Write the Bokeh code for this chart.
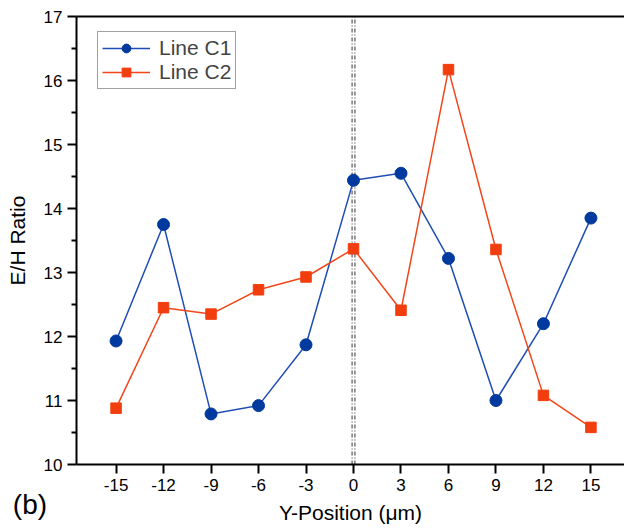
from bokeh.plotting import figure
from bokeh.models import Range1d, Label, Legend, LegendItem, FixedTicker
from bokeh.embed import file_html
from bokeh.resources import INLINE

positions = [-15, -12, -9, -6, -3, 0, 3, 6, 9, 12, 15]
line_c1 = [11.93, 13.75, 10.79, 10.92, 11.87, 14.44, 14.55, 13.22, 11.00, 12.20, 13.85]
line_c2 = [10.88, 12.45, 12.35, 12.73, 12.93, 13.37, 12.41, 16.17, 13.36, 11.08, 10.58]
x_ticks = [-15, -12, -9, -6, -3, 0, 3, 6, 9, 12, 15]
y_ticks = [10, 11, 12, 13, 14, 15, 16, 17]
y_minor = [10.5, 11.5, 12.5, 13.5, 14.5, 15.5, 16.5]
marker_lines = [-0.09, 0.09]

# axis box (data units) and the outer view range
x_lo, x_hi = -17.5, 17.5
y_lo, y_hi = 10, 17
view_x = (-22.3, 17.12)
view_y = (9.0625, 17.25)

FONT = "Liberation Sans"
blue_line = "#1f4db5"
blue_fill = "#003a9e"
red_line = "#f2461a"
red_fill = "#f23e0e"

p = figure(width=624, height=524, output_backend="svg", toolbar_location=None,
           x_range=Range1d(*view_x), y_range=Range1d(*view_y),
           min_border=0, min_border_left=0, min_border_top=0,
           min_border_bottom=0, min_border_right=0)

p.outline_line_color = None
p.grid.grid_line_color = None
p.background_fill_color = "white"

p.segment(x0=marker_lines, y0=[y_lo] * 2, x1=marker_lines, y1=[y_hi] * 2,
          line_color="#333333", line_width=1, line_dash="4 2 1 2")
p.segment(x0=[x_lo], y0=[y_hi], x1=[x_hi], y1=[y_hi], line_color="black", line_width=2)

l1 = p.line(positions, line_c1, line_color=blue_line, line_width=1.5)
m1 = p.scatter(positions, line_c1, marker="circle", size=12, fill_color=blue_fill,
               line_color=blue_fill)
l2 = p.line(positions, line_c2, line_color=red_line, line_width=1.5)
m2 = p.scatter(positions, line_c2, marker="square", size=10.5, fill_color=red_fill,
               line_color=red_fill)

for ax in (p.xaxis[0], p.yaxis[0]):
    ax.axis_line_width = 2
    ax.axis_line_color = "black"
    ax.major_tick_line_width = 2
    ax.major_tick_line_color = "black"
    ax.major_tick_out = 9
    ax.major_tick_in = 0
    ax.minor_tick_line_width = 2
    ax.minor_tick_out = 5
    ax.minor_tick_in = 0
    ax.major_label_text_font = FONT
    ax.major_label_text_font_size = "17px"
    ax.major_label_text_color = "black"
    ax.axis_label_text_font = FONT
    ax.axis_label_text_font_style = "normal"
    ax.axis_label_text_font_size = "21px"
    ax.axis_label_text_color = "black"

xa = p.xaxis[0]
xa.fixed_location = y_lo
xa.bounds = (x_lo, x_hi)
xa.ticker = FixedTicker(ticks=x_ticks)
xa.major_label_overrides = {t: str(t) for t in x_ticks}
xa.minor_tick_line_color = None
xa.major_label_standoff = 5
xa.axis_label = "Y-Position (\u03bcm)"
xa.axis_label_standoff = 7

ya = p.yaxis[0]
ya.fixed_location = x_lo
ya.bounds = (y_lo, y_hi)
ya.ticker = FixedTicker(ticks=y_ticks, minor_ticks=y_minor)
ya.major_label_standoff = 5
ya.axis_label = "E/H Ratio"
ya.axis_label_standoff = 12

legend = Legend(items=[LegendItem(label="Line C1", renderers=[l1, m1]),
                       LegendItem(label="Line C2", renderers=[l2, m2])],
                location=(97, 435), border_line_color="#444444", border_line_width=1,
                label_text_font=FONT, label_text_font_size="21px",
                glyph_width=48, glyph_height=22, label_standoff=9,
                padding=4, spacing=0, margin=0, background_fill_alpha=1)
p.add_layout(legend)

p.add_layout(Label(x=-21.52, y=9.14, text="(b)", text_font=FONT,
                   text_font_size="28px", text_color="black"))

open("out.html", "w").write(file_html(p, INLINE))
